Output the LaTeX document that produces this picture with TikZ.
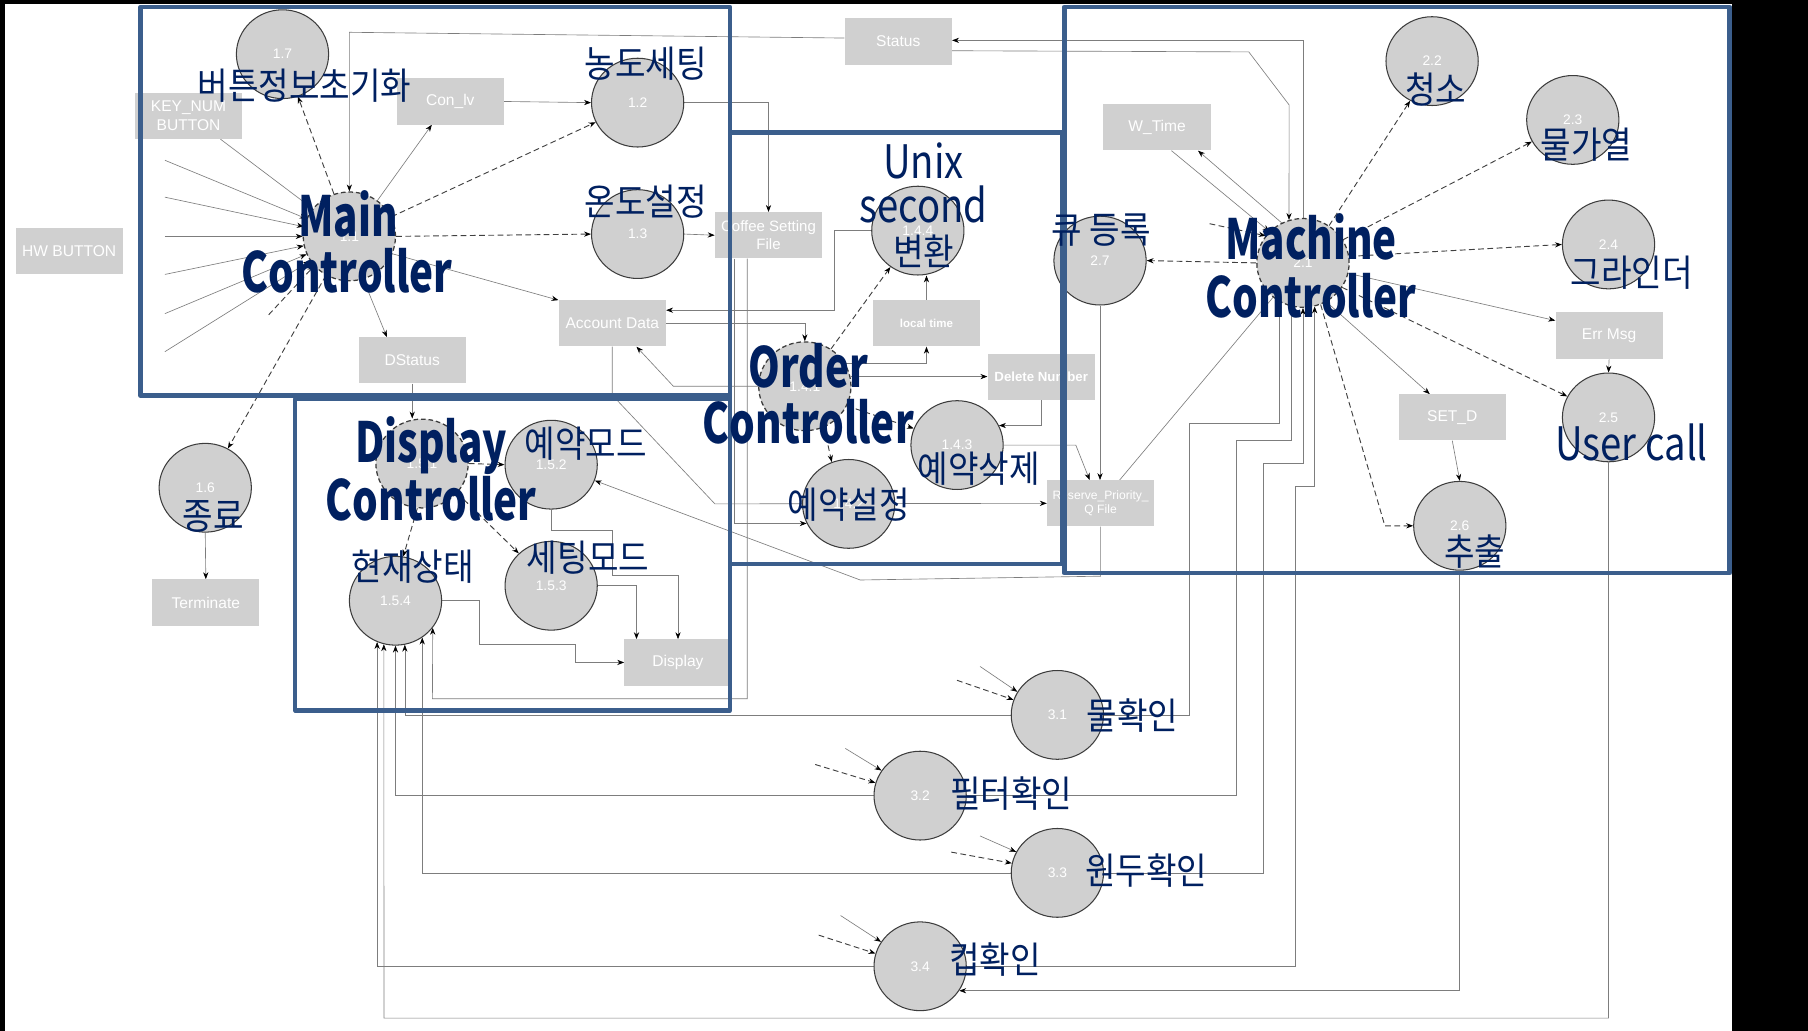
\documentclass[tikz,border=0pt]{standalone}
\usepackage{fontspec}
\newfontfamily\boxfont{Liberation Sans}
\newfontfamily\krl[FakeStretch=0.9]{Noto Sans CJK KR}
\newfontfamily\krc[FakeStretch=0.83]{Noto Sans CJK KR}
\newfontfamily\krb[FakeStretch=0.73]{Noto Sans CJK KR}
\usetikzlibrary{shapes.geometric,arrows.meta,calc}
\definecolor{boxgray}{RGB}{208,208,208}
\definecolor{navy}{RGB}{0,32,96}
\definecolor{bluebox}{RGB}{59,94,140}
\definecolor{linegray}{RGB}{125,125,125}
\definecolor{circborder}{RGB}{60,60,60}
\pgfdeclarelayer{bg}
\pgfdeclarelayer{lines}
\pgfdeclarelayer{blue}
\pgfdeclarelayer{fg}
\pgfsetlayers{bg,lines,main,blue,fg}
\tikzset{
  gbox/.style={rectangle, fill=boxgray, minimum width=93pt, minimum height=40pt, inner sep=1pt, text=white, align=center, font=\boxfont\fontsize{13.5}{16.5}\selectfont},
  proc/.style={ellipse, fill=boxgray, draw=circborder, line width=0.9pt, minimum width=80pt, minimum height=77pt, inner sep=0pt, text=white, font=\boxfont\fontsize{12}{14}\selectfont},
  ctrlproc/.style={proc, dash pattern=on 4pt off 2.5pt, line width=1.1pt},
  ln/.style={draw=linegray, line width=0.55pt},
  arr/.style={-{Stealth[length=6pt,width=4.5pt,color=black]}},
  dsh/.style={draw=black!75, line width=0.8pt, dash pattern=on 5pt off 3pt},
  lbl/.style={text=navy, inner sep=0pt, anchor=base, font=\krl\fontsize{32}{36}\selectfont},
  lat/.style={text=navy, inner sep=0pt, anchor=base, font=\krc\fontsize{40}{44}\selectfont},
  ctl/.style={text=navy, inner sep=0pt, anchor=base, font=\krb\bfseries\fontsize{48}{50}\selectfont},
  bluerect/.style={draw=bluebox, line width=4pt, line join=round}
}
\begin{document}
\begin{tikzpicture}[x=1pt,y=-1pt]
\useasboundingbox (0,0) rectangle (1568,894);
\begin{pgfonlayer}{bg}
  \fill[white] (0,0) rectangle (1568,894);
  \fill[black] (0,0) rectangle (1568,3.5);
  \fill[black] (0,0) rectangle (4.5,894);
  \fill[black] (1502,0) rectangle (1568,894);
\end{pgfonlayer}

% ---------- data boxes ----------
\node[gbox] (hw) at (60,218) {HW BUTTON};
\node[gbox] (key) at (163.5,100.5) {KEY\_NUM\\BUTTON};
\node[gbox] (conlv) at (390.5,88) {Con\_lv};
\node[gbox] (dstatus) at (357.5,312.5) {DStatus};
\node[gbox] (acct) at (531,280.5) {Account Data};
\node[gbox, font=\boxfont\fontsize{13}{15}\selectfont] (csf) at (666.5,204) {Coffee Setting\\File};
\node[gbox] (status) at (779,36) {Status};
\node[gbox, font=\boxfont\bfseries\fontsize{10}{12}\selectfont] (ltime) at (803.5,280.5) {local time};
\node[gbox, font=\boxfont\bfseries\fontsize{11.5}{13}\selectfont] (delnum) at (903,327) {Delete Number};
\node[gbox] (wtime) at (1003.5,110.5) {W\_Time};
\node[gbox] (errmsg) at (1395.5,291) {Err Msg};
\node[gbox] (setd) at (1259.5,362) {SET\_D};
\node[gbox, font=\boxfont\fontsize{10.5}{12.5}\selectfont] (reserve) at (954.5,436.5) {Reserve\_Priority\_\\Q File};
\node[gbox] (term) at (178.5,522.5) {Terminate};
\node[gbox] (display) at (588,574.5) {Display};

% ---------- processes ----------
\node[proc] (n17) at (245,47) {1.7};
\node[proc] (n12) at (553,89) {1.2};
\node[proc] (n13) at (553,203) {1.3};
\node[ctrlproc] (n11) at (303,205) {1.1};
\node[proc] (n16) at (178,423) {1.6};
\node[ctrlproc] (n151) at (366,402) {1.5.1};
\node[proc] (n152) at (478,403) {1.5.2};
\node[proc] (n153) at (478,508) {1.5.3};
\node[proc] (n154) at (343,521) {1.5.4};
\node[ctrlproc] (n141) at (698,335) {1.4.1};
\node[proc] (n142) at (736,437) {1.4.2};
\node[proc] (n143) at (830,386) {1.4.3};
\node[proc] (n144) at (796,200) {1.4.4};
\node[proc] (n27) at (954,226) {2.7};
\node[ctrlproc] (n21) at (1130,228) {2.1};
\node[proc] (n22) at (1242,53) {2.2};
\node[proc] (n23) at (1364,104) {2.3};
\node[proc] (n24) at (1395,212) {2.4};
\node[proc] (n25) at (1395,362) {2.5};
\node[proc] (n26) at (1266,456) {2.6};
\node[proc] (n31) at (917,620) {3.1};
\node[proc] (n32) at (798,690) {3.2};
\node[proc] (n33) at (917,757) {3.3};
\node[proc] (n34) at (798,838) {3.4};

% free ends
\coordinate (f1) at (143,139);
\coordinate (f2) at (143,171);
\coordinate (f3) at (143,205);
\coordinate (f4) at (143,238);
\coordinate (f5) at (143,272);
\coordinate (f6) at (143,305);
\coordinate (s1) at (233,273);
\coordinate (s2) at (1049,194);
\coordinate (a31) at (850,578);
\coordinate (b31) at (830,590);
\coordinate (a32) at (733,649);
\coordinate (b32) at (707,663);
\coordinate (a33) at (850,725);
\coordinate (b33) at (825,739);
\coordinate (a34) at (729,794);
\coordinate (b34) at (710,811);

\begin{pgfonlayer}{lines}
% main controller
\foreach \f in {f1,f2,f3,f4,f5,f6} \draw[ln,arr] (\f) -- (n11);
\draw[ln,arr] ([xshift=-19pt]key.south east) -- (n11);
\draw[dsh,arr] (s1) -- (n11.-140);
\draw[dsh,arr] (n11.110) -- (n17.-70);
\draw[ln,arr] ([yshift=3pt]status.west) -- (303,28) -- (n11.north);
\draw[ln,arr] (n11.52) -- ([xshift=-16pt]conlv.south);
\draw[ln,arr] (conlv.east) -- (n12.west);
\draw[dsh,arr] (n11.25) -- (n12.205);
\draw[dsh,arr] (n11.east) -- (n13.west);
\draw[ln,arr] (n11.-22) -- (acct.north west);
\draw[ln,arr] (n11.-72) -- ([xshift=-22pt]dstatus.north);
\draw[ln,arr] (dstatus.south) -- (dstatus.south |- n151.north);
\draw[ln,arr] (n12.east) -| (csf.north);
\draw[ln,arr] (n13.east) -- (csf.west);
\draw[ln,arr] ([xshift=-29.5pt]csf.south) |- (n142.205);
\draw[ln,arr] ([xshift=-18.5pt]csf.south) |- (375,606) -- (n154.-36);
\draw[ln,arr] (acct.south) -- ++(0,42) -- (620,437) -- (reserve.west);
\draw[ln,arr] (n144.west) -- ++(-32,0) |- ([yshift=11.5pt]acct.east);
\draw[ln,arr] (acct.east) -| (n141.north);
\draw[ln,arr] (n141.west) -- (584,335) -- ([xshift=21pt]acct.south);
\draw[dsh,arr] (n141.55) -- (n144.-127);
\draw[ln,arr] (ltime.north) -- (ltime.north |- n144.south);
\draw[ln,arr] (n141.30) -| (ltime.south);
\draw[ln,arr] (n141.12) -- (n141.12 -| delnum.west);
\draw[dsh,arr] (n141.-25) -- (n143.159);
\draw[dsh,arr] (n141.-65) -- (n142.112);
\draw[ln,arr] (delnum.south) |- (n143.25);
\draw[ln,arr] (n143.east) -- (933,386) -- ([xshift=-9.5pt]reserve.north);
\draw[ln,arr] (n27.south) -- (n27.south |- reserve.north);
\draw[ln,arr] (reserve.south) -- ++(0,43) -- (746,503) -- (n152.-20);
\draw[ln] ([xshift=16.5pt]reserve.north) -- (n21.-131);
% machine controller
\draw[dsh,arr] (n21.west) -- (n27.east);
\draw[dsh,arr] (n21.55) -- (n22.-119);
\draw[dsh,arr] (n21.30) -- (n23.-152);
\draw[dsh,arr] (n21.8) -- (n24.west);
\draw[ln,arr] (n21.-13) -- ([yshift=13pt]errmsg.west);
\draw[dsh,arr] (n21.-32) -- (n25.153);
\draw[ln,arr] (n21.-59) -- ([xshift=-19.5pt]setd.north);
\draw[dsh,arr] (n21.-67) -- (1201,456) -- (n26.west);
\draw[ln,arr] (errmsg.south) -- (n25.north);
\draw[ln,arr] (setd.south) -- (n26.north);
\draw[ln,arr] ([xshift=12.5pt]wtime.south) -- (n21.137);
\draw[ln,arr] (n21.118) -- ([xshift=35.5pt]wtime.south);
\draw[dsh,arr] (s2) -- (n21.144);
\draw[ln,arr] (n21.north) |- ([yshift=1pt]status.east);
\draw[ln,arr] ([yshift=-8pt]status.east) -- (1083,45) -- (1118,91) -- (n21.108);
\draw[ln,arr] (n31.east) -| (1031,367) -| (n21.-122.6);
\draw[ln,arr] (n32.east) -| (1072,382) -| (n21.-105);
\draw[ln,arr] (n33.east) -| (1096,402) -| (n21.-90);
\draw[ln,arr] (n34.east) -| (1123,422) -| (n21.-75);
\draw[ln,arr] (n26.south) |- (n34.-32);
\draw[ln,arr] (n25.south) |- (333,883) -- (n154.-105);
\draw[ln,arr] (n34.west) -| (n154.-114);
\draw[ln,arr] (n32.west) -| (n154.-90);
\draw[ln,arr] (n31.west) -| (n154.-78);
\draw[ln,arr] (n33.west) -| (n154.-54);
% sensor stubs
\draw[ln,arr] (a31) -- (n31.150);
\draw[dsh,arr] (b31) -- (n31.161);
\draw[ln,arr] (a32) -- (n32.147);
\draw[dsh,arr] (b32) -- (n32.164);
\draw[ln,arr] (a33) -- (n33.153);
\draw[dsh,arr] (b33) -- (n33.168);
\draw[ln,arr] (a34) -- (n34.148);
\draw[dsh,arr] (b34) -- (n34.164);
% display controller
\draw[dsh,arr] (n151.east) -- (n152.west);
\draw[dsh,arr] (n151.-40) -- (n153.135);
\draw[dsh,arr] (n151.-96) -- (n154.80);
\draw[ln,arr] (n152.south) |- (531,460) |- (display.north |- 0,499) -- (display.north);
\draw[ln,arr] (n153.east) -| ([xshift=-36pt]display.north);
\draw[ln,arr] (n154.east) -- (416,521) |- (499,559) |- (display.west);
\draw[ln,arr] (n16.south) -- (term.north);
\draw[dsh,arr] (n11.-121) -- (n16.60);
\end{pgfonlayer}

\begin{pgfonlayer}{blue}
  \draw[bluerect] (122,6) rectangle (633,343);
  \draw[bluerect] (256,346) rectangle (633,616);
  \draw[bluerect] (633,115) rectangle (921,489);
  \draw[bluerect] (923,6) rectangle (1500,497);
\end{pgfonlayer}

\begin{pgfonlayer}{fg}
  \node[ctl] (t11a) at (302,205) {Main};
  \node[ctl] (t11b) at (301,254) {Controller};
  \node[ctl] (t151a) at (374,401) {Display};
  \node[ctl] (t151b) at (374,451) {Controller};
  \node[ctl] (t141a) at (701,336) {Order};
  \node[ctl] (t141b) at (701,385) {Controller};
  \node[ctl] (t21a) at (1137,225) {Machine};
  \node[ctl] (t21b) at (1137,275) {Controller};
  \node[lbl] (t17) at (264,86.5) {버튼정보초기화};
  \node[lbl] (t12) at (560,67.5) {농도세팅};
  \node[lbl] (t13) at (560,186.5) {온도설정};
  \node[lbl] (t16) at (185,459.5) {종료};
  \node[lbl] (t152) at (508,396.5) {예약모드};
  \node[lbl] (t153) at (510,495.5) {세팅모드};
  \node[lbl] (t154) at (358,503.5) {현재상태};
  \node[lbl] (t142) at (736,449.5) {예약설정};
  \node[lbl] (t143) at (849,418.5) {예약삭제};
  \node[lat] (t144a) at (801,155) {Unix};
  \node[lat] (t144b) at (801,193) {second};
  \node[lbl] (t144c) at (801,230.5) {변환};
  \node[lbl] (t27) at (955,211.5) {큐 등록};
  \node[lbl] (t22) at (1245,89.5) {청소};
  \node[lbl] (t23) at (1376,137.5) {물가열};
  \node[lbl] (t24) at (1415,248.5) {그라인더};
  \node[lat] (t25) at (1415,399) {User call};
  \node[lbl] (t26) at (1279,490.5) {추출};
  \node[lbl] (t31) at (982,632.5) {물확인};
  \node[lbl] (t32) at (877,700.5) {필터확인};
  \node[lbl] (t33) at (994,767.5) {원두확인};
  \node[lbl] (t34) at (863,844.5) {컵확인};
\end{pgfonlayer}
\end{tikzpicture}
\end{document}
